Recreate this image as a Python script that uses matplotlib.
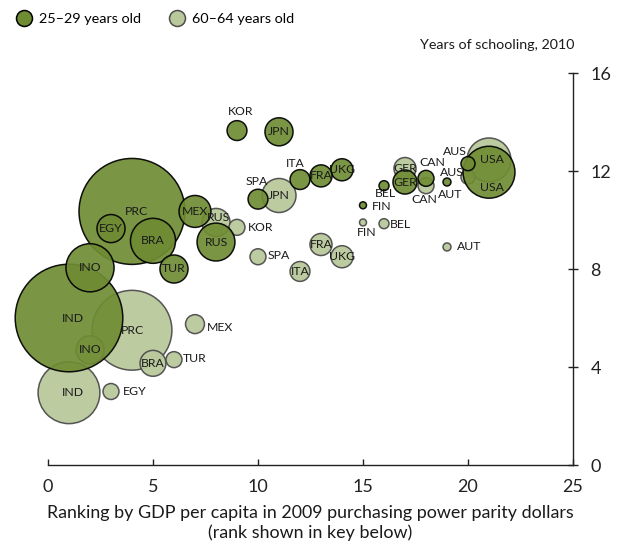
import matplotlib
matplotlib.use("Agg")
import matplotlib.pyplot as plt
import numpy as np
from matplotlib.lines import Line2D

plt.rcParams['font.family'] = ['Lato', 'DejaVu Sans']

# GDP-per-capita rank, years of schooling and (approx.) population, millions
countries = ["IND", "PRC", "EGY", "BRA", "INO", "TUR", "MEX", "RUS", "KOR", "JPN",
             "SPA", "ITA", "FRA", "UKG", "FIN", "BEL", "GER", "CAN", "AUT", "AUS", "USA"]
rank = [1, 4, 3, 5, 2, 6, 7, 8, 9, 11, 10, 12, 13, 14, 15, 16, 17, 18, 19, 20, 21]

school_young = [6.0, 10.35, 9.65, 9.15, 8.05, 8.0, 10.35, 9.1, 13.65, 13.6,
                10.85, 11.65, 11.8, 12.05, 10.6, 11.4, 11.55, 11.7, 11.55, 12.3, 11.95]
school_old = [2.95, 5.5, 3.0, 4.15, 4.7, 4.3, 5.75, 9.9, 9.7, 11.0,
              8.5, 7.9, 9.0, 8.5, 9.9, 9.85, 12.1, 11.4, 8.9, 11.75, 12.45]

pop_young = [100, 97, 6.8, 17.5, 20, 6.8, 8.8, 12.4, 3.4, 6.8,
             3.4, 3.4, 4.2, 4.2, 0.42, 0.86, 5.0, 2.2, 0.55, 1.7, 23.3]
pop_old = [33, 55, 2.2, 5.8, 6.8, 2.2, 3.1, 6.8, 2.2, 10,
           2.2, 3.4, 4.2, 4.2, 0.42, 0.86, 4.2, 2.2, 0.55, 1.7, 16.7]

dark = "#6f8c33"
light = "#bac99c"
size_scale = 60  # marker area (pt^2) per million people

# label offsets in pixels (dx, dy, ha); default is centred on the bubble
lab_young = {"IND": (4, 0, "center"), "PRC": (4, 0, "center"),
             "KOR": (4, 19, "center"), "SPA": (-1, 18, "center"),
             "ITA": (-5, 16, "center"), "FIN": (9, -1, "left"),
             "BEL": (1, -8, "center"), "CAN": (6, 16, "center"),
             "AUT": (3, -12, "center"), "AUS": (-13, 12, "center"),
             "USA": (3, -15, "center")}
lab_old = {"IND": (4, 0, "center"), "EGY": (12, 0, "left"), "TUR": (9, 1, "left"),
           "MEX": (12, -3, "left"), "RUS": (3, 5, "center"), "KOR": (11, 0, "left"),
           "SPA": (10, 1, "left"), "FIN": (4, -10, "center"), "BEL": (6, -1, "left"),
           "CAN": (-2, -14, "center"), "AUT": (10, 0, "left"),
           "AUS": (-16, 5, "center"), "USA": (3, 0, "center")}

fig = plt.figure(figsize=(6.23, 5.43), dpi=100)
ax = fig.add_axes([48 / 623, 78 / 543, 525 / 623, 392 / 543])


def draw_series(ys, pops, face, edge, alpha, z, labels):
    order = np.argsort(pops)[::-1]
    x = np.array(rank)[order]
    y = np.array(ys)[order]
    s = np.array(pops)[order] * size_scale
    ax.scatter(x, y, s=s, c=face, edgecolors=edge, linewidths=1.1,
               alpha=alpha, zorder=z, clip_on=False)
    for i, c in enumerate(countries):
        dx, dy, ha = labels.get(c, (0, 0, "center"))
        ax.annotate(c, (rank[i], ys[i]), xytext=(dx, dy), textcoords="offset pixels",
                    ha=ha, va="center", fontsize=8.8, color="#1a1a1a", zorder=10)


draw_series(school_old, pop_old, light, "#4d4d4d", 0.95, 2, lab_old)
draw_series(school_young, pop_young, dark, "black", 0.92, 3, lab_young)

ax.set_xlim(0, 25)
ax.set_ylim(0, 16)
for side in ["top", "left"]:
    ax.spines[side].set_visible(False)
for side in ["bottom", "right"]:
    ax.spines[side].set_linewidth(1.0)
    ax.spines[side].set_color("#222222")

ax.set_xticks([0, 5, 10, 15, 20, 25])
ax.set_yticks([0, 4, 8, 12, 16])
ax.yaxis.tick_right()
ax.tick_params(axis="x", direction="in", length=4, width=1, labelsize=13, pad=10,
               colors="#222222")
ax.tick_params(axis="y", direction="inout", length=7, width=1, labelsize=13, pad=9,
               colors="#222222")

ax.set_xlabel("Ranking by GDP per capita in 2009 purchasing power parity dollars\n"
              "(rank shown in key below)", fontsize=12.9, labelpad=7, linespacing=1.3,
              color="#1a1a1a")
fig.text(574 / 623, 1 - 45 / 543, "Years of schooling, 2010", ha="right", va="center",
         fontsize=10.3, color="#1a1a1a")

handles = [Line2D([], [], marker="o", ls="", markersize=11.5, markerfacecolor=dark,
                  markeredgecolor="black", markeredgewidth=1.1, label="25\u201329 years old"),
           Line2D([], [], marker="o", ls="", markersize=11.5, markerfacecolor=light,
                  markeredgecolor="#4d4d4d", markeredgewidth=1.1, label="60\u201364 years old")]
fig.legend(handles=handles, loc="upper left", bbox_to_anchor=(15 / 623, 1 - 13 / 543),
           ncol=2, frameon=False, fontsize=10.4, handlelength=1.2, handletextpad=0.45,
           columnspacing=1.9, borderpad=0, borderaxespad=0)

fig.savefig("out.png", dpi=100)
